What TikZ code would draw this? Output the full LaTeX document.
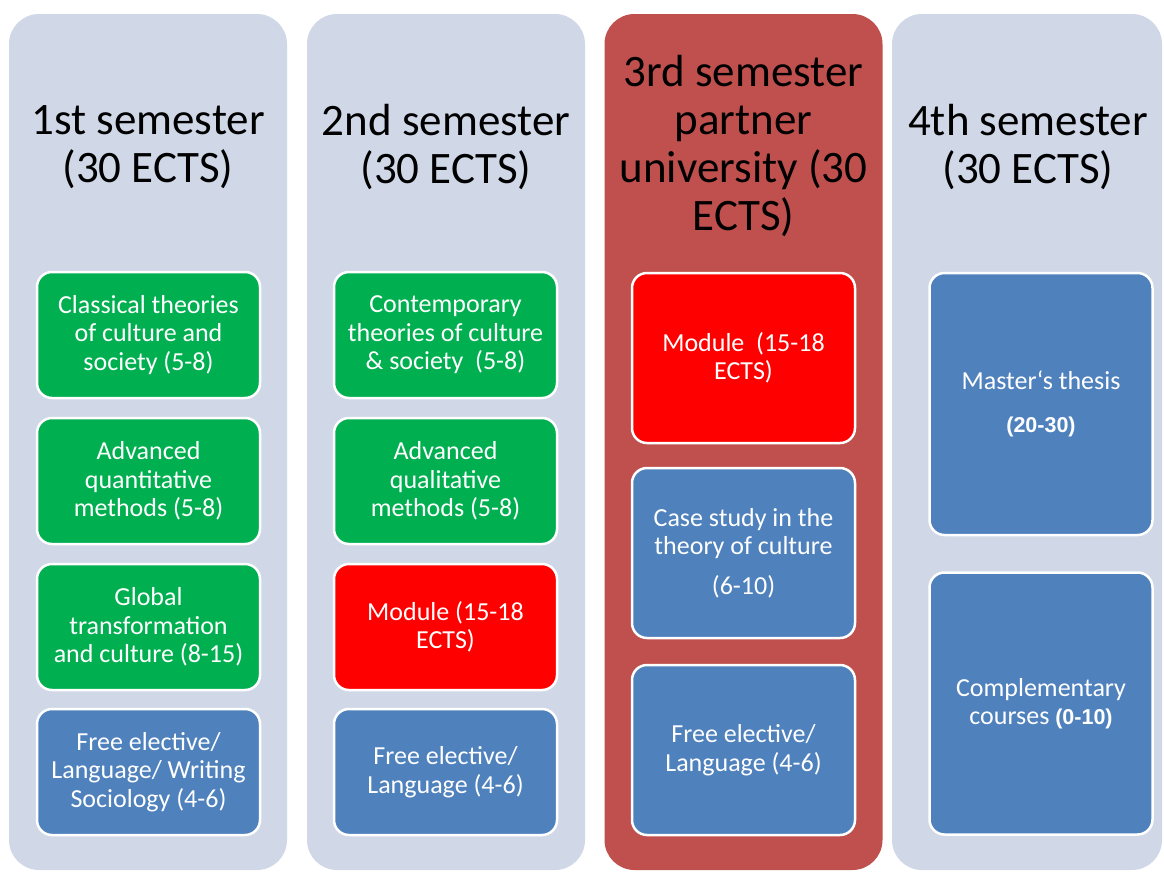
\documentclass[tikz,border=0pt]{standalone}
\usepackage{fontspec}
\setmainfont{Carlito}
\newfontfamily\numfont{Liberation Sans}
\usetikzlibrary{positioning}
\definecolor{semgray}{HTML}{D0D8E8}
\definecolor{semred}{HTML}{C0504D}
\definecolor{coregreen}{HTML}{00B050}
\definecolor{modred}{HTML}{FF0000}
\definecolor{freeblue}{HTML}{4F81BD}
\newcommand{\ects}[1]{{\numfont\bfseries\fontsize{21.5}{24}\selectfont #1}}

\begin{document}
\begin{tikzpicture}[x=1pt,y=-1pt,
    sem/.style={rounded corners=30pt, minimum width=278pt, minimum height=856pt, fill=semgray, inner sep=0pt},
    head/.style={align=center, font=\fontsize{45}{48}\selectfont},
    course/.style={draw=white, line width=2.5pt, rounded corners=15pt, minimum width=223pt,
      text=white, align=center, inner sep=0pt, font=\fontsize{26}{28.5}\selectfont},
    small/.style={course, minimum height=126pt},
    tall/.style={course, minimum height=170pt},
    big/.style={course, minimum height=262pt}]
  \fill[white] (0,0) rectangle (1164,871);
  \useasboundingbox (0,0) rectangle (1164,871);

  % semester columns
  \foreach \i/\x/\c in {1/148/semgray, 2/446/semgray, 3/743.5/semred}
    \node[sem, fill=\c] (s\i) at (\x,442) {};
  \node[sem, minimum width=270pt] (s4) at (1027,442) {};

  \node[head] (h1) at (148,147) {1st semester\\(30 ECTS)};
  \node[head] (h2) at (446,147) {2nd semester\\(30 ECTS)};
  \node[head] (h3) at (743.5,146) {3rd semester\\partner\\university (30\\ECTS)};
  \node[head] (h4) at (1028,147) {4th semester\\(30 ECTS)};

  % 1st semester
  \node[small, fill=coregreen] (c11) at (148.5,335) {Classical theories\\of culture and\\society (5-8)};
  \node[small, fill=coregreen] (c12) at (148.5,481) {Advanced\\quantitative\\methods (5-8)};
  \node[small, fill=coregreen] (c13) at (148.5,627) {Global\\transformation\\and culture (8-15)};
  \node[small, fill=freeblue] (c14) at (148.5,772) {Free elective/\\Language/ Writing\\Sociology (4-6)};

  % 2nd semester
  \node[small, fill=coregreen] (c21) at (445.5,335) {Contemporary\\theories of culture\\\& society~ (5-8)};
  \node[small, fill=coregreen] (c22) at (445.5,481) {Advanced\\qualitative\\methods (5-8)};
  \node[small, fill=modred] (c23) at (445.5,627) {Module (15-18\\ECTS)};
  \node[small, fill=freeblue] (c24) at (445.5,772) {Free elective/\\Language (4-6)};

  % 3rd semester
  \node[tall, fill=modred] (c31) at (743.5,358) {Module~ (15-18\\ECTS)};
  \node[tall, fill=freeblue] (c32) at (743.5,553) {Case study in the\\theory of culture\\[11pt](6-10)};
  \node[tall, fill=freeblue] (c33) at (743.5,750) {Free elective/\\Language (4-6)};

  % 4th semester
  \node[big, fill=freeblue] (c41) at (1041,404) {Master‘s thesis\\[14pt]\ects{(20-30)}};
  \node[big, fill=freeblue] (c42) at (1041,703.5) {Complementary\\courses \ects{(0-10)}};
\end{tikzpicture}
\end{document}
